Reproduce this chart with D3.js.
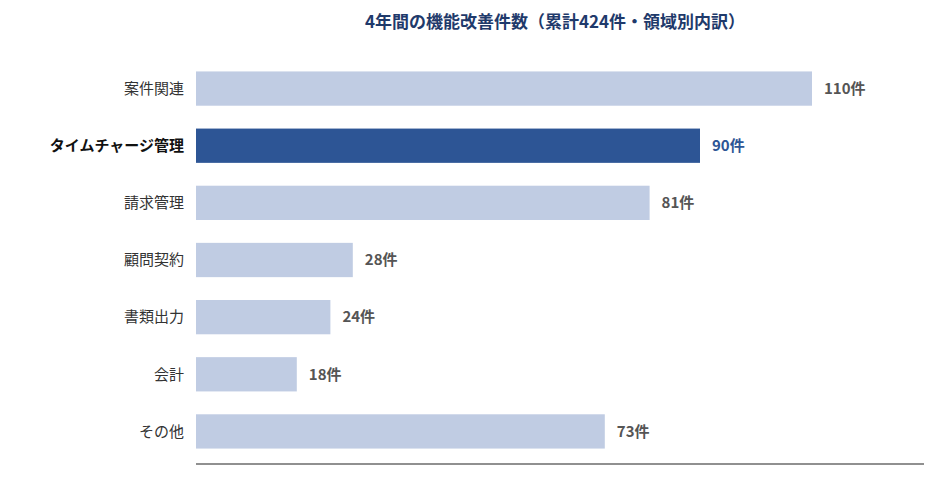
<!DOCTYPE html>
<html><head><meta charset="utf-8">
<script src="https://cdn.jsdelivr.net/npm/d3@7"></script>
<style>body{margin:0;background:#fff;font-family:"Noto Sans CJK JP","Noto Sans",sans-serif;}</style>
</head><body><svg id="c" width="940" height="480"></svg>
<script>
const categories=["案件関連","タイムチャージ管理","請求管理","顧問契約","書類出力","会計","その他"];
const values=[110,90,81,28,24,18,73];
const highlight="タイムチャージ管理";
const unit="件";
const title="4年間の機能改善件数（累計424件・領域別内訳）";

const svg=d3.select("#c");
const x=d3.scaleLinear().domain([0,130]).range([196,924]);
const y=d3.scaleBand().domain(categories).range([60,460]).paddingInner(0.4).paddingOuter(0.2);
const data=categories.map((c,i)=>({c,v:values[i]}));

svg.append("text").attr("x",555).attr("y",28).attr("text-anchor","middle")
 .attr("font-size",17).attr("font-weight","bold").attr("fill","#1f3a6b").text(title);

svg.selectAll("rect.bar").data(data).join("rect").attr("class","bar")
 .attr("x",x(0)).attr("y",d=>y(d.c)).attr("width",d=>x(d.v)-x(0)).attr("height",y.bandwidth())
 .attr("fill",d=>d.c===highlight?"#2d5595":"#c0cce3");

svg.selectAll("text.cat").data(data).join("text").attr("class","cat")
 .attr("x",184).attr("y",d=>y(d.c)+y.bandwidth()/2).attr("dy","0.35em").attr("text-anchor","end")
 .attr("font-size",15).attr("font-weight",d=>d.c===highlight?"bold":"normal")
 .attr("fill",d=>d.c===highlight?"#111":"#333").text(d=>d.c);

svg.selectAll("text.val").data(data).join("text").attr("class","val")
 .attr("x",d=>x(d.v)+12).attr("y",d=>y(d.c)+y.bandwidth()/2).attr("dy","0.35em")
 .attr("font-size",15).attr("font-weight","bold")
 .attr("fill",d=>d.c===highlight?"#2d5595":"#555").text(d=>d.v+unit);

svg.append("line").attr("x1",x(0)).attr("x2",x(130)).attr("y1",464).attr("y2",464)
 .attr("stroke","#222").attr("stroke-width",1.2);
</script></body></html>
